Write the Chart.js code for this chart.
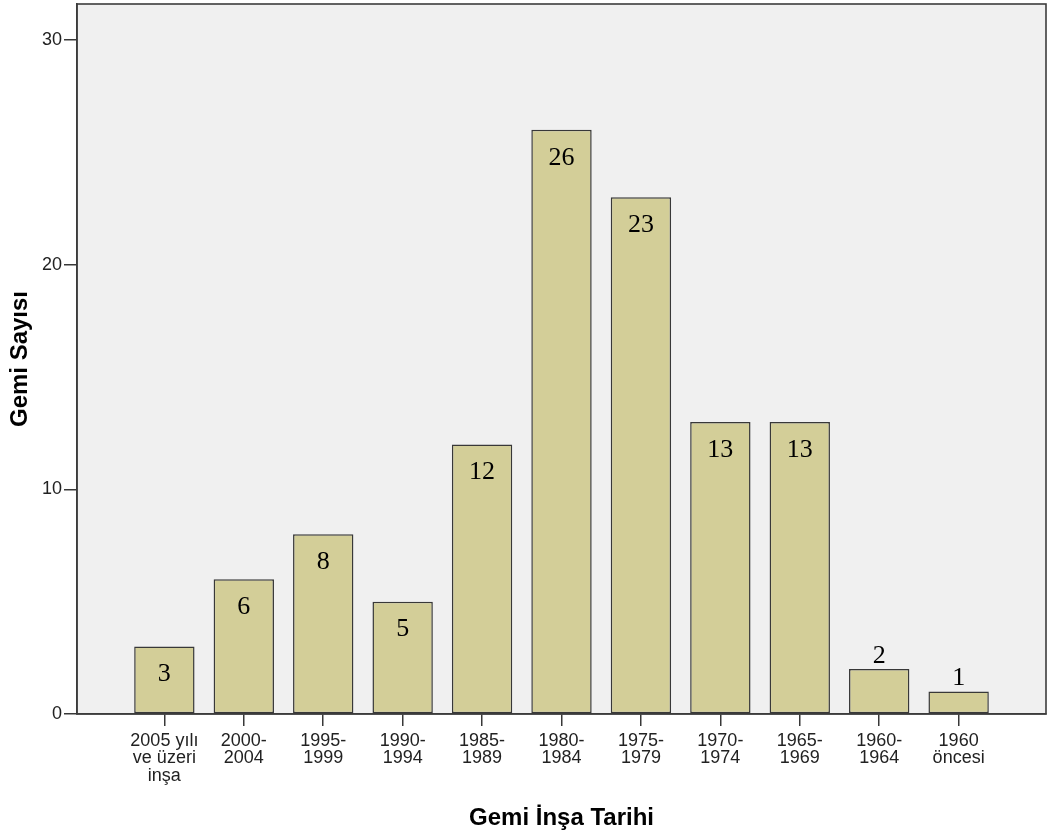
<!DOCTYPE html>
<html>
<head>
<meta charset="utf-8">
<script src="https://cdn.jsdelivr.net/npm/chart.js@4"></script>
<style>
  html, body { margin: 0; padding: 0; background: #ffffff; }
  #wrap { width: 1050px; height: 839px; }
</style>
</head>
<body>
<div id="wrap"><canvas id="c" width="1050" height="839"></canvas></div>
<script>
// Ship counts by construction period
const categories = [
  ['2005 yılı', 've üzeri', 'inşa'],
  ['2000-', '2004'],
  ['1995-', '1999'],
  ['1990-', '1994'],
  ['1985-', '1989'],
  ['1980-', '1984'],
  ['1975-', '1979'],
  ['1970-', '1974'],
  ['1965-', '1969'],
  ['1960-', '1964'],
  ['1960', 'öncesi']
];
const shipCounts = [3, 6, 8, 5, 12, 26, 23, 13, 13, 2, 1];
const yTicks = [0, 10, 20, 30];

const SANS = "'Liberation Sans', Arial, sans-serif";
const SERIF = "'Liberation Serif', 'Times New Roman', serif";

// Plot background and frame
const framePlugin = {
  id: 'frame',
  beforeDraw(chart) {
    const { ctx, chartArea: a } = chart;
    ctx.save();
    ctx.fillStyle = '#f0f0f0';
    ctx.fillRect(a.left, a.top, a.right - a.left, a.bottom - a.top);
    ctx.restore();
  },
  afterDraw(chart) {
    const { ctx, chartArea: a } = chart;
    ctx.save();
    ctx.strokeStyle = '#3c3c3c';
    ctx.lineWidth = 1.6;
    ctx.strokeRect(a.left, a.top, a.right - a.left, a.bottom - a.top);
    ctx.restore();
  }
};

// Count written on each bar
const valueLabels = {
  id: 'valueLabels',
  afterDatasetsDraw(chart) {
    const { ctx } = chart;
    const meta = chart.getDatasetMeta(0);
    ctx.save();
    ctx.font = '26px ' + SERIF;
    ctx.fillStyle = '#000000';
    ctx.textAlign = 'center';
    ctx.textBaseline = 'middle';
    meta.data.forEach((bar, i) => {
      const h = bar.base - bar.y;
      const y = h > 50 ? bar.y + 28 : bar.y - 13;
      ctx.fillText(String(shipCounts[i]), bar.x, y);
    });
    ctx.restore();
  }
};

new Chart(document.getElementById('c'), {
  type: 'bar',
  data: {
    datasets: [{
      data: shipCounts.map((v, i) => ({ x: i, y: v })),
      backgroundColor: '#d3ce98',
      borderColor: '#383838',
      borderWidth: 1.5,
      borderSkipped: false,
      barPercentage: 0.76,
      categoryPercentage: 1
    }]
  },
  options: {
    responsive: false,
    animation: false,
    layout: { padding: { top: 4, right: 4, left: 0, bottom: 0 } },
    plugins: { legend: { display: false }, tooltip: { enabled: false } },
    scales: {
      x: {
        type: 'linear',
        min: -1.1,
        max: 11.1,
        offset: false,
        afterBuildTicks(scale) {
          scale.ticks = categories.map((_, i) => ({ value: i }));
        },
        afterFit(scale) {
          scale.height = 125;
          scale.paddingLeft = 0;
          scale.paddingRight = 0;
        },
        grid: { display: true, offset: false, drawOnChartArea: false, drawTicks: true, tickLength: 12, tickColor: '#383838', lineWidth: 1.5 },
        border: { display: true, color: '#3c3c3c', width: 1.6 },
        ticks: {
          autoSkip: false,
          maxRotation: 0,
          minRotation: 0,
          padding: 6,
          color: '#222222',
          font: { family: SANS, size: 18, lineHeight: 0.97 },
          callback: (v) => categories[v]
        },
        title: {
          display: true,
          text: 'Gemi İnşa Tarihi',
          color: '#000000',
          font: { family: SANS, size: 24, weight: 'bold', lineHeight: 1.2 },
          padding: { top: 0, bottom: 6 }
        }
      },
      y: {
        min: 0,
        max: 31.6,
        afterBuildTicks(scale) {
          scale.ticks = yTicks.map(v => ({ value: v }));
        },
        afterFit(scale) {
          scale.width = 77;
          scale.paddingTop = 0;
          scale.paddingBottom = 0;
        },
        grid: { display: true, drawOnChartArea: false, drawTicks: true, tickLength: 13, tickColor: '#383838', lineWidth: 1.5 },
        border: { display: true, color: '#3c3c3c', width: 1.6 },
        ticks: {
          padding: 2,
          color: '#222222',
          font: { family: SANS, size: 18 }
        },
        title: {
          display: true,
          text: 'Gemi Sayısı',
          color: '#000000',
          font: { family: SANS, size: 24, weight: 'bold', lineHeight: 1.2 },
          padding: { top: 6, bottom: 0 }
        }
      }
    }
  },
  plugins: [framePlugin, valueLabels]
});
</script>
</body>
</html>
